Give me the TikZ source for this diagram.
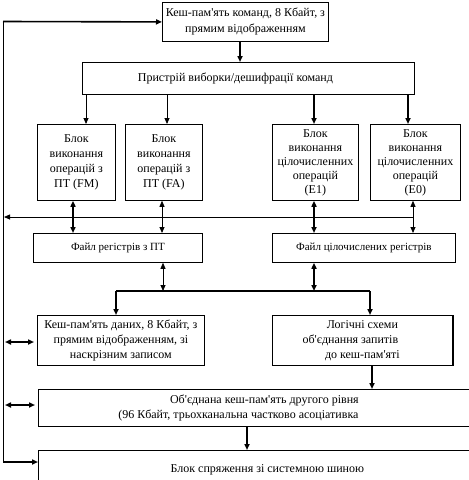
\documentclass[tikz,border=0pt]{standalone}
\usepackage{fontspec}
\setmainfont{Liberation Serif}
\usetikzlibrary{arrows.meta}
\newcommand\apq{\textquotesingle}
\begin{document}
\begin{tikzpicture}[x=1pt,y=-1pt,
  box/.style={draw, line width=0.8pt, anchor=north west, inner sep=1pt, align=center,
    font=\fontsize{12}{15}\selectfont},
  thn/.style={line width=0.8pt},
  med/.style={line width=1.6pt},
  thk/.style={line width=2.6pt},
  ar/.style={-{Triangle[length=6pt,width=5pt]}},
  dar/.style={{Triangle[length=6pt,width=5pt]}-{Triangle[length=6pt,width=5pt]}}
]
\clip (0,0) rectangle (469,480);
\fill[white] (0,0) rectangle (469,480);

% boxes
\node[box, minimum width=166pt, minimum height=39pt, font=\fontsize{12}{16}\selectfont] (cmd) at (162,2)
  {Кеш-пам\apq ять команд, 8 Кбайт, з\\прямим відображенням};
\node[box, minimum width=332pt, minimum height=32pt] (dec) at (82,62)
  {\hspace*{-26pt}Пристрій виборки/дешифрації команд};
\node[box, minimum width=78pt, minimum height=76pt] (fm) at (37,124)
  {Блок\\виконання\\операцій з\\ПТ (FM)};
\node[box, minimum width=77pt, minimum height=76pt] (fa) at (125,124)
  {Блок\\виконання\\операцій з\\ПТ (FA)};
\node[box, minimum width=86pt, minimum height=76pt, font=\fontsize{12}{14}\selectfont] (e1) at (272,124)
  {Блок\\виконання\\цілочисленних\\операцій\\(E1)};
\node[box, minimum width=90pt, minimum height=76pt, font=\fontsize{12}{14}\selectfont] (e0) at (370,124)
  {Блок\\виконання\\цілочисленних\\операцій\\(E0)};
\node[box, minimum width=169pt, minimum height=29pt, font=\fontsize{11}{14}\selectfont] (fpr) at (33,233)
  {Файл регістрів з ПТ};
\node[box, minimum width=183pt, minimum height=29pt, font=\fontsize{11}{14}\selectfont] (ireg) at (272,233)
  {Файл цілочислених регістрів};
\node[box, minimum width=167pt, minimum height=50pt] (dc) at (37,315)
  {Кеш-пам\apq ять даних, 8 Кбайт, з\\прямим відображенням, зі\\наскрізним записом};
\node[box, minimum width=180pt, minimum height=50pt] (lg) at (272,315)
  {Логічні схеми\\\hspace*{-24pt}об\apq єднання запитів\\до кеш-пам\apq яті};
\draw[med] (lg.north east) -- (lg.south east);
\node[box, minimum width=452pt, minimum height=37pt] (l2) at (38,389)
  {Об\apq єднана кеш-пам\apq ять другого рівня\\\hspace*{-52pt}(96 Кбайт, трьохканальна частково асоціативка};
\node[box, minimum width=458pt, minimum height=38pt] (sb) at (38,450)
  {Блок спряження зі системною шиною};

% helper coordinates
\coordinate (c1) at (240,0);
\coordinate (d1) at (86,0);
\coordinate (d2) at (167,0);
\coordinate (d3) at (314,0);
\coordinate (d4) at (408,0);
\coordinate (v1) at (73,0);
\coordinate (v2) at (162,0);
\coordinate (v3) at (314,0);
\coordinate (v4) at (413,0);
\coordinate (f1) at (163,0);
\coordinate (f2) at (314,0);
\coordinate (busR) at (413,217);
\coordinate (busL) at (4,217);
\coordinate (bbL) at (116,291);
\coordinate (bbR) at (370,291);
\coordinate (g1) at (372,0);
\coordinate (h1) at (247,0);
\coordinate (lt) at (3,21.5);
\coordinate (lb) at (3,462);
\coordinate (la) at (5,342);
\coordinate (lc) at (5,405);

% left loop
\draw[med, ar] (lt) -- (cmd.west);
\draw[thn] (lt) -- (lb);
\draw[med, ar] (lb) -- (lb -| sb.west);

% cmd -> dec
\draw[thk, ar] (cmd.south -| c1) -- (dec.north -| c1);

% dec -> exec units
\draw[thn, ar] (dec.south -| d1) -- (fm.north -| d1);
\draw[thn, ar] (dec.south -| d2) -- (fa.north -| d2);
\draw[thk, ar] (dec.south -| d3) -- (e1.north -| d3);
\draw[thk, ar] (dec.south -| d4) -- (e0.north -| d4);

% bus between exec units and register files
\draw[thn, ar] (busR) -- (busL);
\draw[thk, dar] (fm.south -| v1) -- (fpr.north -| v1);
\draw[thn, dar] (fa.south -| v2) -- (fpr.north -| v2);
\draw[thk, dar] (e1.south -| v3) -- (ireg.north -| v3);
\draw[thn, dar] (e0.south -| v4) -- (ireg.north -| v4);

% register files to thick bus
\draw[thn, dar] (fpr.south -| f1) -- (bbL -| f1);
\draw[thk, dar] (ireg.south -| f2) -- (bbL -| f2);
\draw[thk] (bbL) -- (bbR);
\draw[med, ar] (bbL) -- (dc.north -| bbL);
\draw[med, ar] (bbR) -- (lg.north -| bbR);

% lower connections
\draw[med, dar, shorten >=3pt] (la) -- (la -| dc.west);
\draw[med, dar, shorten >=3pt] (lc) -- (lc -| l2.west);
\draw[thk, ar] (lg.south -| g1) -- (l2.north -| g1);
\draw[thk, ar] (l2.south -| h1) -- (sb.north -| h1);
\end{tikzpicture}
\end{document}
